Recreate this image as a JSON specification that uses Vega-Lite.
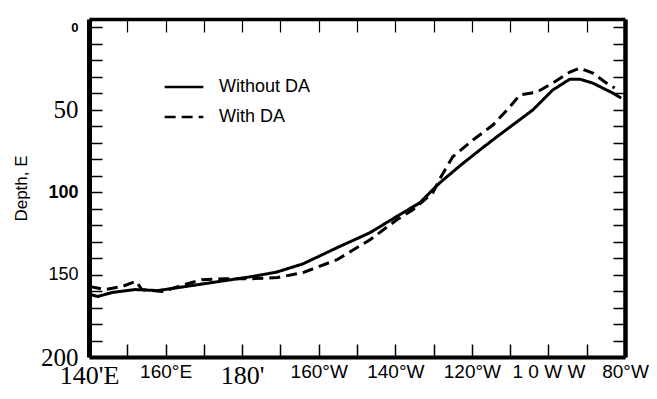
{
  "$schema": "https://vega.github.io/schema/vega-lite/v6.json",
  "width": 536,
  "height": 338,
  "autosize": "none",
  "padding": {"left": 89, "top": 19, "right": 32, "bottom": 42},
  "background": "white",
  "config": {
    "view": {"stroke": null},
    "axis": {"grid": false, "domainColor": "black", "tickColor": "black", "labelColor": "black", "titleColor": "black"}
  },
  "data": {
    "values": [
      {"lon": 140.3, "depth": 162.1, "series": "Without DA"},
      {"lon": 142.3, "depth": 163.3, "series": "Without DA"},
      {"lon": 146.0, "depth": 160.9, "series": "Without DA"},
      {"lon": 152.0, "depth": 159.1, "series": "Without DA"},
      {"lon": 158.0, "depth": 159.7, "series": "Without DA"},
      {"lon": 165.1, "depth": 157.3, "series": "Without DA"},
      {"lon": 173.7, "depth": 154.3, "series": "Without DA"},
      {"lon": 182.6, "depth": 151.2, "series": "Without DA"},
      {"lon": 189.0, "depth": 148.5, "series": "Without DA"},
      {"lon": 195.9, "depth": 143.5, "series": "Without DA"},
      {"lon": 204.8, "depth": 133.7, "series": "Without DA"},
      {"lon": 213.4, "depth": 124.6, "series": "Without DA"},
      {"lon": 222.0, "depth": 112.5, "series": "Without DA"},
      {"lon": 226.4, "depth": 106.5, "series": "Without DA"},
      {"lon": 229.0, "depth": 100.4, "series": "Without DA"},
      {"lon": 231.6, "depth": 94.4, "series": "Without DA"},
      {"lon": 236.9, "depth": 84.0, "series": "Without DA"},
      {"lon": 242.1, "depth": 74.4, "series": "Without DA"},
      {"lon": 246.5, "depth": 66.5, "series": "Without DA"},
      {"lon": 251.7, "depth": 57.5, "series": "Without DA"},
      {"lon": 255.9, "depth": 50.2, "series": "Without DA"},
      {"lon": 261.1, "depth": 38.1, "series": "Without DA"},
      {"lon": 265.6, "depth": 31.5, "series": "Without DA"},
      {"lon": 268.2, "depth": 31.5, "series": "Without DA"},
      {"lon": 271.6, "depth": 33.9, "series": "Without DA"},
      {"lon": 276.8, "depth": 39.9, "series": "Without DA"},
      {"lon": 279.0, "depth": 43.0, "series": "Without DA"},
      {"lon": 140.3, "depth": 157.3, "series": "With DA"},
      {"lon": 144.2, "depth": 159.1, "series": "With DA"},
      {"lon": 148.6, "depth": 157.3, "series": "With DA"},
      {"lon": 152.3, "depth": 154.0, "series": "With DA"},
      {"lon": 153.8, "depth": 159.1, "series": "With DA"},
      {"lon": 159.1, "depth": 160.3, "series": "With DA"},
      {"lon": 163.2, "depth": 157.3, "series": "With DA"},
      {"lon": 169.5, "depth": 153.1, "series": "With DA"},
      {"lon": 175.5, "depth": 152.5, "series": "With DA"},
      {"lon": 182.6, "depth": 152.5, "series": "With DA"},
      {"lon": 189.3, "depth": 151.8, "series": "With DA"},
      {"lon": 195.9, "depth": 148.8, "series": "With DA"},
      {"lon": 204.8, "depth": 141.0, "series": "With DA"},
      {"lon": 213.4, "depth": 128.9, "series": "With DA"},
      {"lon": 220.4, "depth": 116.8, "series": "With DA"},
      {"lon": 224.6, "depth": 110.7, "series": "With DA"},
      {"lon": 229.8, "depth": 100.4, "series": "With DA"},
      {"lon": 231.6, "depth": 92.0, "series": "With DA"},
      {"lon": 235.0, "depth": 78.6, "series": "With DA"},
      {"lon": 240.3, "depth": 68.4, "series": "With DA"},
      {"lon": 245.5, "depth": 59.3, "series": "With DA"},
      {"lon": 249.9, "depth": 48.4, "series": "With DA"},
      {"lon": 252.5, "depth": 41.1, "series": "With DA"},
      {"lon": 257.0, "depth": 39.3, "series": "With DA"},
      {"lon": 261.1, "depth": 33.9, "series": "With DA"},
      {"lon": 265.6, "depth": 27.2, "series": "With DA"},
      {"lon": 268.2, "depth": 24.8, "series": "With DA"},
      {"lon": 271.6, "depth": 27.8, "series": "With DA"},
      {"lon": 275.2, "depth": 33.9, "series": "With DA"},
      {"lon": 277.3, "depth": 36.9, "series": "With DA"}
    ]
  },
  "resolve": {"axis": {"x": "independent", "y": "independent"}},
  "layer": [
    {
      "mark": {"type": "line", "strokeWidth": 3, "color": "black"},
      "encoding": {
        "x": {
          "field": "lon", "type": "quantitative",
          "scale": {"domain": [140, 280], "nice": false, "zero": false},
          "axis": {
            "orient": "bottom", "title": null,
            "values": [140, 150, 160, 170, 180, 190, 200, 210, 220, 230, 240, 250, 260, 270, 280],
            "labelExpr": "datum.value == 140 ? \"140'E\" : datum.value == 160 ? '160°E' : datum.value == 180 ? \"180'\" : datum.value == 200 ? '160°W' : datum.value == 220 ? '140°W' : datum.value == 240 ? '120°W' : datum.value == 260 ? '1 0 W W' : datum.value == 280 ? '80°W' : ''",
            "labelFont": {"condition": {"test": "datum.value == 140 || datum.value == 180", "value": "Liberation Serif"}, "value": "Liberation Sans"},
            "labelFontSize": {"condition": {"test": "datum.value == 140 || datum.value == 180", "value": 26}, "value": 19},
            "labelBaseline": "top",
            "labelFlush": false,
            "labelOverlap": false,
            "labelPadding": 18,
            "domainWidth": 4,
            "tickSize": -13,
            "tickWidth": 1.5
          }
        },
        "y": {
          "field": "depth", "type": "quantitative",
          "scale": {"domain": [-5, 200], "reverse": true, "nice": false, "zero": false},
          "axis": {
            "orient": "left",
            "title": "Depth, E",
            "titleFont": "Liberation Sans", "titleFontSize": 17, "titleFontWeight": "normal",
            "titlePadding": 10,
            "values": [0, 10, 20, 30, 40, 50, 60, 70, 80, 90, 100, 110, 120, 130, 140, 150, 160, 170, 180, 190, 200],
            "labelExpr": "datum.value % 50 == 0 ? datum.value : ''",
            "labelFont": {"condition": {"test": "datum.value == 50 || datum.value == 200", "value": "Liberation Serif"}, "value": "Liberation Sans"},
            "labelFontSize": {"condition": [{"test": "datum.value == 50 || datum.value == 200", "value": 25}, {"test": "datum.value == 0", "value": 13}], "value": 18},
            "labelFontWeight": {"condition": {"test": "datum.value == 0 || datum.value == 100", "value": "bold"}, "value": "normal"},
            "labelOverlap": false,
            "labelFlush": false,
            "labelPadding": 24,
            "domainWidth": 5,
            "tickSize": -13,
            "tickWidth": 1.5
          }
        },
        "strokeDash": {
          "field": "series", "type": "nominal",
          "scale": {"domain": ["Without DA", "With DA"], "range": [[1, 0], [11, 6]]},
          "legend": {
            "title": null,
            "orient": "none",
            "legendX": 74,
            "legendY": 47,
            "symbolType": "stroke",
            "symbolSize": 1500,
            "symbolStrokeWidth": 2.5,
            "symbolStrokeColor": "black",
            "labelFont": "Liberation Sans",
            "labelFontSize": 18,
            "labelColor": "black",
            "labelOffset": 14,
            "rowPadding": 0,
            "padding": 0
          }
        }
      }
    },
    {
      "mark": {"type": "line", "strokeOpacity": 0},
      "encoding": {
        "x": {
          "field": "lon", "type": "quantitative",
          "scale": {"domain": [140, 280], "nice": false, "zero": false},
          "axis": {
            "orient": "top", "title": null, "labels": false,
            "values": [140, 150, 160, 170, 180, 190, 200, 210, 220, 230, 240, 250, 260, 270, 280],
            "domainWidth": 3.5,
            "tickSize": -13,
            "tickWidth": 1.2
          }
        },
        "y": {
          "field": "depth", "type": "quantitative",
          "scale": {"domain": [-5, 200], "reverse": true, "nice": false, "zero": false},
          "axis": {
            "orient": "right", "title": null, "labels": false,
            "values": [0, 10, 20, 30, 40, 50, 60, 70, 80, 90, 100, 110, 120, 130, 140, 150, 160, 170, 180, 190, 200],
            "domainWidth": 4.5,
            "tickSize": -12,
            "tickWidth": 1.5
          }
        },
        "detail": {"field": "series"}
      }
    }
  ]
}
